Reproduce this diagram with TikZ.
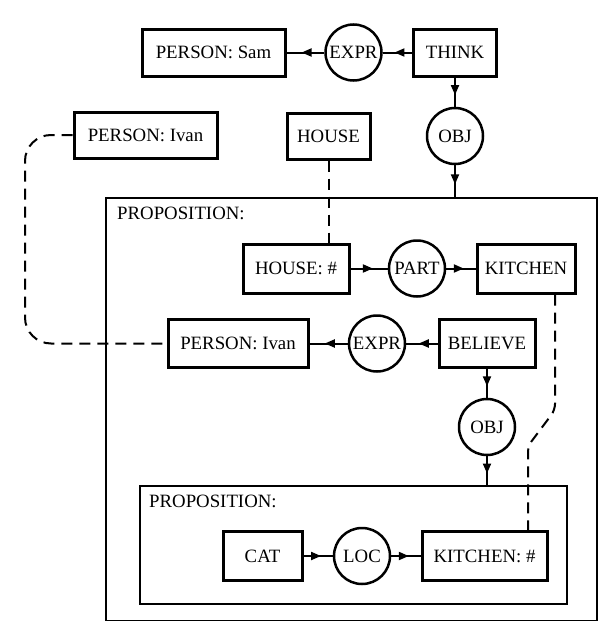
\documentclass[tikz,border=0pt]{standalone}
\usepackage{fontspec}
\setmainfont{Liberation Serif}
\usetikzlibrary{arrows.meta,decorations.markings}
\begin{document}
\begin{tikzpicture}[x=1pt,y=-1pt,
  every node/.style={font=\fontsize{18.8}{22}\selectfont},
  concept/.style={draw, line width=3pt, minimum height=47, inner sep=0pt},
  relation/.style={draw, circle, line width=2.5pt, minimum size=56, inner sep=0pt},
  context/.style={draw, line width=2pt, anchor=north west, inner sep=0pt},
  ctxlabel/.style={anchor=base west, inner sep=0pt},
  link/.style={line width=2pt, postaction={decorate},
    decoration={markings, mark=at position 0.6 with {\arrow{Triangle[length=10pt,width=8pt]}}}},
  coref/.style={line width=2pt, dash pattern=on 11pt off 7pt}]
\useasboundingbox (0,0) rectangle (597,621);

% contexts
\node[context, minimum width=491, minimum height=423] (p1) at (105,197) {};
\node[ctxlabel] (p1label) at (117,219.5) {PROPOSITION:};
\node[context, minimum width=427, minimum height=118] (p2) at (139,485) {};
\node[ctxlabel] (p2label) at (149,507) {PROPOSITION:};

% outer graph
\node[concept, minimum width=143] (sam) at (213.5,52.5) {PERSON: Sam};
\node[relation] (expr1) at (353.5,52.5) {EXPR};
\node[concept, minimum width=83] (think) at (455,52.5) {THINK};
\node[relation] (obj1) at (455,136) {OBJ};
\node[concept, minimum width=143, minimum height=46] (ivan1) at (145.5,135) {PERSON: Ivan};
\node[concept, minimum width=83, minimum height=46] (house) at (328.5,136) {HOUSE};

% first proposition
\node[concept, minimum width=106, minimum height=49] (househ) at (296,268.5) {HOUSE: \#};
\node[relation] (part) at (417,268.5) {PART};
\node[concept, minimum width=98, minimum height=49] (kitchen) at (526,268.5) {KITCHEN};
\node[concept, minimum width=140, minimum height=48] (ivan2) at (238,343.5) {PERSON: Ivan};
\node[relation] (expr2) at (377,343.5) {EXPR};
\node[concept, minimum width=96, minimum height=48] (believe) at (487,343.5) {BELIEVE};
\node[relation] (obj2) at (487,427) {OBJ};

% nested proposition
\node[concept, minimum width=79, minimum height=49] (cat) at (262.5,556) {CAT};
\node[relation] (loc) at (362,556) {LOC};
\node[concept, minimum width=125, minimum height=49] (kh) at (484.5,556) {KITCHEN: \#};

% relation arcs
\draw[link] (think) -- (expr1);
\draw[link] (expr1) -- (sam);
\draw[link] (think) -- (obj1);
\draw[link] (obj1.south) -- (obj1.south |- p1.north);
\draw[link] (househ) -- (part);
\draw[link] (part) -- (kitchen);
\draw[link] (believe) -- (expr2);
\draw[link] (expr2) -- (ivan2);
\draw[link] (believe) -- (obj2);
\draw[link] (obj2.south) -- (obj2.south |- p2.north);
\draw[link] (cat) -- (loc);
\draw[link] (loc) -- (kh);

% coreference links
\draw[coref] (house.south) -- (house.south |- househ.north);
\coordinate (lc) at (25,343.5);
\draw[coref, rounded corners=26] (ivan1.west) -| (lc) -- (ivan2.west);
\coordinate (k1) at (555,410);
\coordinate (k2) at (528,446);
\draw[coref, rounded corners=6] (kitchen.south -| k1) -- (k1) -- (k2) -- (kh.north -| k2);
\end{tikzpicture}
\end{document}
